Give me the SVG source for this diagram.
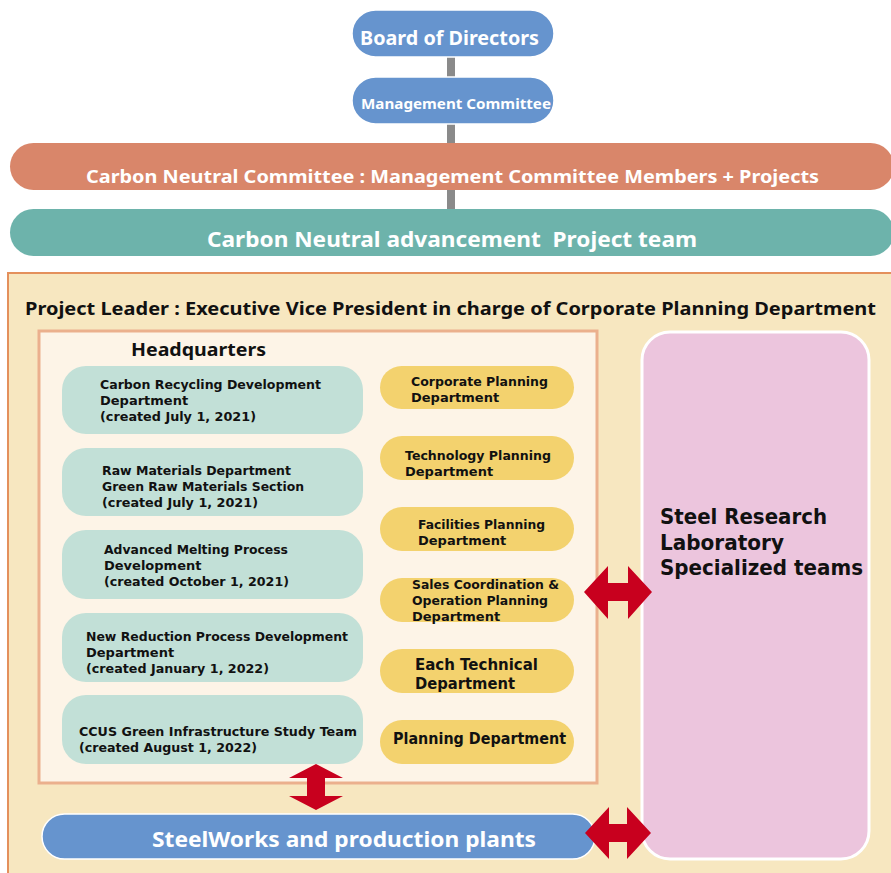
<svg xmlns="http://www.w3.org/2000/svg" width="891" height="873" viewBox="0 0 891 873">
<style>
text{font-family:"Noto Sans","DejaVu Sans",sans-serif;font-weight:bold}
.b{font-family:"DejaVu Sans","Noto Sans",sans-serif}
.w{fill:#fff}
.k{fill:#111}
.blue{fill:#6694CE;stroke:#fff;stroke-width:1.5}
.teal{fill:#C2E0D7}
.yel{fill:#F3D26E}
.arrow{fill:#C8001E}
.s13{font-size:13px}
</style>
<rect x="0" y="0" width="891" height="873" fill="#fff"/>
<g id="connectors">
<rect x="447" y="56" width="8" height="154" fill="#8A8A8A"/>
</g>
<g id="board">
<rect class="blue" x="352" y="10" width="202" height="47" rx="23.5"/>
<text class="w" x="360" y="45" font-size="19" textLength="179" lengthAdjust="spacingAndGlyphs">Board of Directors</text>
</g>
<g id="mgmt">
<rect class="blue" x="352" y="77" width="202" height="47" rx="23.5"/>
<text class="w" x="361" y="109" font-size="14.5" textLength="190" lengthAdjust="spacingAndGlyphs">Management Committee</text>
</g>
<g id="cnc">
<rect x="10" y="143" width="884" height="47" rx="23.5" fill="#D9866A"/>
<text class="w" x="86" y="183" font-size="18.5" textLength="733" lengthAdjust="spacingAndGlyphs">Carbon Neutral Committee : Management Committee Members + Projects</text>
</g>
<g id="cnapt">
<rect x="10" y="209" width="884" height="47" rx="23.5" fill="#6DB3AB"/>
<text class="w" x="207" y="247" font-size="21" textLength="490" lengthAdjust="spacingAndGlyphs" xml:space="preserve">Carbon Neutral advancement  Project team</text>
</g>
<g id="project">
<rect x="8" y="273" width="895" height="610" fill="#F7E7C0" stroke="#E4905C" stroke-width="2"/>
<text class="k" x="25" y="315" font-size="18" textLength="851" lengthAdjust="spacingAndGlyphs">Project Leader : Executive Vice President in charge of Corporate Planning Department</text>
</g>
<g id="hq">
<rect x="39" y="331" width="558" height="452" fill="#FDF4E7" stroke="#EBB08D" stroke-width="3"/>
<text class="k" x="131" y="356" font-size="18" textLength="135" lengthAdjust="spacingAndGlyphs">Headquarters</text>
</g>
<g id="t1">
<rect class="teal" x="62" y="366" width="301" height="68" rx="24"/>
<text class="k b s13" x="100" y="389" textLength="221" lengthAdjust="spacingAndGlyphs">Carbon Recycling Development</text>
<text class="k b s13" x="100" y="405">Department</text>
<text class="k b s13" x="100" y="421" textLength="156" lengthAdjust="spacingAndGlyphs">(created July 1, 2021)</text>
</g>
<g id="t2">
<rect class="teal" x="62" y="448" width="301" height="68" rx="24"/>
<text class="k b s13" x="102" y="475" textLength="189" lengthAdjust="spacingAndGlyphs">Raw Materials Department</text>
<text class="k b s13" x="102" y="491" textLength="202" lengthAdjust="spacingAndGlyphs">Green Raw Materials Section</text>
<text class="k b s13" x="102" y="507" textLength="156" lengthAdjust="spacingAndGlyphs">(created July 1, 2021)</text>
</g>
<g id="t3">
<rect class="teal" x="62" y="530" width="301" height="69" rx="24"/>
<text class="k b s13" x="104" y="554" textLength="184" lengthAdjust="spacingAndGlyphs">Advanced Melting Process</text>
<text class="k b s13" x="104" y="570">Development</text>
<text class="k b s13" x="104" y="586" textLength="185" lengthAdjust="spacingAndGlyphs">(created October 1, 2021)</text>
</g>
<g id="t4">
<rect class="teal" x="62" y="613" width="301" height="69" rx="24"/>
<text class="k b s13" x="86" y="641" textLength="262" lengthAdjust="spacingAndGlyphs">New Reduction Process Development</text>
<text class="k b s13" x="86" y="657">Department</text>
<text class="k b s13" x="86" y="673" textLength="183" lengthAdjust="spacingAndGlyphs">(created January 1, 2022)</text>
</g>
<g id="t5">
<rect class="teal" x="62" y="695" width="301" height="69" rx="24"/>
<text class="k b s13" x="79" y="736" textLength="278" lengthAdjust="spacingAndGlyphs">CCUS Green Infrastructure Study Team</text>
<text class="k b s13" x="79" y="752" textLength="178" lengthAdjust="spacingAndGlyphs">(created August 1, 2022)</text>
</g>
<g id="y1">
<rect class="yel" x="380" y="366" width="194" height="43" rx="21.5"/>
<text class="k b s13" x="411" y="386" textLength="137" lengthAdjust="spacingAndGlyphs">Corporate Planning</text>
<text class="k b s13" x="411" y="402">Department</text>
</g>
<g id="y2">
<rect class="yel" x="380" y="436" width="194" height="44" rx="22"/>
<text class="k b s13" x="405" y="460" textLength="146" lengthAdjust="spacingAndGlyphs">Technology Planning</text>
<text class="k b s13" x="405" y="476">Department</text>
</g>
<g id="y3">
<rect class="yel" x="380" y="507" width="194" height="44" rx="22"/>
<text class="k b s13" x="418" y="529" textLength="127" lengthAdjust="spacingAndGlyphs">Facilities Planning</text>
<text class="k b s13" x="418" y="545">Department</text>
</g>
<g id="y4">
<rect class="yel" x="380" y="578" width="194" height="44" rx="22"/>
<text class="k b s13" x="412" y="589" textLength="147" lengthAdjust="spacingAndGlyphs">Sales Coordination &amp;</text>
<text class="k b s13" x="412" y="605" textLength="136" lengthAdjust="spacingAndGlyphs">Operation Planning</text>
<text class="k b s13" x="412" y="621">Department</text>
</g>
<g id="y5">
<rect class="yel" x="380" y="649" width="194" height="44" rx="22"/>
<text class="k b" x="415" y="670" font-size="16" textLength="123" lengthAdjust="spacingAndGlyphs">Each Technical</text>
<text class="k b" x="415" y="689" font-size="16" textLength="100" lengthAdjust="spacingAndGlyphs">Department</text>
</g>
<g id="y6">
<rect class="yel" x="380" y="720" width="194" height="44" rx="22"/>
<text class="k b" x="393" y="744" font-size="15" textLength="173" lengthAdjust="spacingAndGlyphs">Planning Department</text>
</g>
<g id="lab">
<rect x="642" y="332" width="227" height="527" rx="28" fill="#ECC5DD" stroke="#fff" stroke-width="3"/>
<text class="k b" x="660" y="524" font-size="21" textLength="167" lengthAdjust="spacingAndGlyphs">Steel Research</text>
<text class="k b" x="660" y="550" font-size="21" textLength="124" lengthAdjust="spacingAndGlyphs">Laboratory</text>
<text class="k b" x="660" y="575" font-size="21" textLength="203" lengthAdjust="spacingAndGlyphs">Specialized teams</text>
</g>
<g id="steelworks">
<rect class="blue" x="42" y="814" width="553" height="45" rx="22.5" stroke-width="2.5"/>
<text class="w" x="152" y="847" font-size="21" textLength="384" lengthAdjust="spacingAndGlyphs">SteelWorks and production plants</text>
</g>
<g id="arrows">
<polygon class="arrow" points="584,592 608,566 608,583 628,583 628,566 652,592 628,619 628,601 608,601 608,619"/>
<polygon class="arrow" points="585,833 609,807 609,824 627,824 627,807 651,833 627,859 627,842 609,842 609,859"/>
<polygon class="arrow" points="316,764 343,778 325,778 325,796 343,796 316,810 289,796 307,796 307,778 289,778"/>
</g>
</svg>
